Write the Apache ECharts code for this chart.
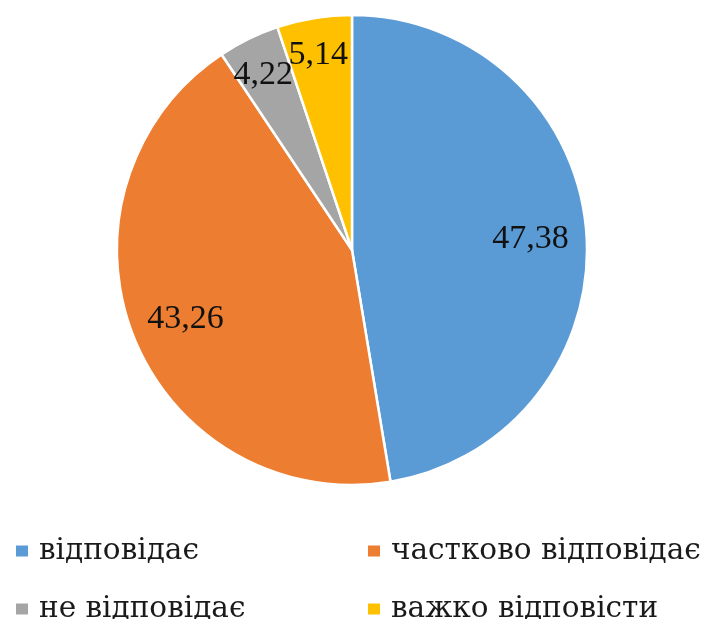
<!DOCTYPE html>
<html>
<head>
<meta charset="utf-8">
<script src="https://cdn.jsdelivr.net/npm/echarts@6/dist/echarts.min.js"></script>
<style>html,body{margin:0;padding:0;background:#fff}#c{width:707px;height:619px}</style>
</head>
<body>
<div id="c"></div>
<script>
const categories = ['відповідає', 'частково відповідає', 'не відповідає', 'важко відповісти'];
const values = [47.38, 43.26, 4.22, 5.14];
const colors = ['#5B9BD5', '#ED7D31', '#A5A5A5', '#FFC000'];
const labelOffsets = [[0, 4], [0, 3], [-10, -14], [-5, -18]];

const chart = echarts.init(document.getElementById('c'));
const fmt = p => p.value.toFixed(2).replace('.', ',');
const font = '"Liberation Serif", "Times New Roman", serif';
const legendFont = '"DejaVu Serif", serif';

const legendPos = [[14, 535], [366, 535], [14, 593], [366, 593]];
const legends = categories.map((n, i) => ({
  data: [n],
  left: legendPos[i][0], top: legendPos[i][1],
  padding: 0,
  itemWidth: 14, itemHeight: 13, icon: 'rect',
  textStyle: { fontFamily: legendFont, fontSize: 29.5, lineHeight: 32, color: '#1a1a1a', padding: [0, 0, 0, 5] },
  selectedMode: false
}));

chart.setOption({
  animation: false,
  legend: legends,
  series: [
    {
      type: 'pie',
      center: [352, 250],
      radius: [0, 235],
      startAngle: 90,
      clockwise: true,
      label: { show: false },
      labelLine: { show: false },
      itemStyle: { borderColor: '#fff', borderWidth: 2.5 },
      emphasis: { disabled: true },
      data: categories.map((n, i) => ({ name: n, value: values[i], itemStyle: { color: colors[i] } }))
    },
    {
      type: 'pie',
      center: [352, 250],
      radius: [0, 352],
      startAngle: 90,
      clockwise: true,
      silent: true,
      avoidLabelOverlap: false,
      labelLayout: { hideOverlap: false },
      z: 5,
      label: { show: true, position: 'inside', formatter: fmt, fontFamily: font, fontSize: 34, color: '#111' },
      labelLine: { show: false },
      itemStyle: { color: 'rgba(0,0,0,0)' },
      emphasis: { disabled: true },
      data: categories.map((n, i) => ({ name: n, value: values[i], label: { offset: labelOffsets[i] } }))
    }
  ]
});
</script>
</body>
</html>
